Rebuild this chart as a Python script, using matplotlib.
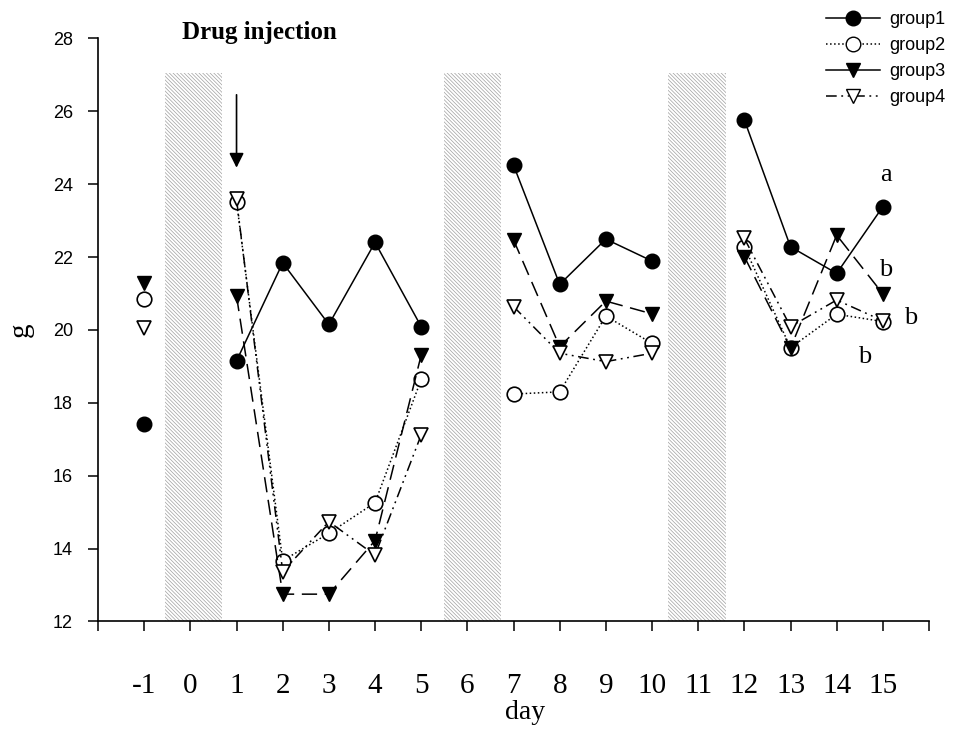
import numpy as np
import matplotlib
matplotlib.use("Agg")
import matplotlib.pyplot as plt
from matplotlib.lines import Line2D

nan = np.nan
days = [-1, 0, 1, 2, 3, 4, 5, 6, 7, 8, 9, 10, 11, 12, 13, 14, 15]
group1 = [17.41, nan, 19.15, 21.84, 20.15, 22.40, 20.09, nan, 24.52, 21.25, 22.49, 21.89, nan, 25.76, 22.28, 21.55, 23.38]
group2 = [20.84, nan, 23.52, 13.67, 14.42, 15.26, 18.64, nan, 18.24, 18.30, 20.38, 19.63, nan, 22.28, 19.51, 20.43, 20.23]
group3 = [21.30, nan, 20.93, 12.75, 12.75, 14.22, 19.31, nan, 22.47, 19.54, 20.79, 20.44, nan, 22.01, 19.50, 22.60, 20.99]
group4 = [20.04, nan, 23.58, 13.37, 14.74, 13.82, 17.12, nan, 20.64, 19.36, 19.13, 19.36, nan, 22.51, 20.09, 20.82, 20.25]
labels = ["group1", "group2", "group3", "group4"]
tick_days = list(range(-2, 17))
tick_labels = ["" if d in (-2, 16) else str(d) for d in tick_days]
bands = [(-0.56, 0.69), (5.50, 6.73), (10.35, 11.60)]
band_top = 27.05

plt.rcParams['hatch.linewidth'] = 0.5
plt.rcParams['hatch.color'] = '#a0a0a0'

fig = plt.figure(figsize=(9.64, 7.31), dpi=100)
ax = fig.add_axes([0.1017, 0.1498, 0.862, 0.7978])
ax.set_xlim(-2, 16)
ax.set_ylim(12, 28)

for x0, x1 in bands:
    ax.fill_between([x0, x1], 12, band_top, facecolor='white', edgecolor='#a0a0a0',
                    hatch='\\' * 9, linewidth=0, zorder=1)

d = np.array(days)
kw = dict(color='black', lw=1.1, markersize=10.5, zorder=3)
ax.plot(d, group1, '-', marker='o', mfc='black', mec='black', label=labels[0], **kw)
ax.plot(d, group2, ':', marker='o', mfc='white', mec='black', mew=1.2, label=labels[1], **kw)
ax.plot(d, group3, marker='v', mfc='black', mec='black', label=labels[2],
        linestyle=(0, (10, 5)), **kw)
ax.plot(d, group4, marker='v', mfc='white', mec='black', mew=1.2, label=labels[3],
        linestyle=(0, (7, 3, 1.2, 3, 1.2, 3)), **kw)

# arrow for drug injection
ax.annotate('', xy=(1, 24.45), xytext=(1, 26.45),
            arrowprops=dict(arrowstyle='-|>', color='black', lw=1.2,
                            mutation_scale=22, shrinkA=0, shrinkB=0), zorder=4)
ax.text(1.5, 28.15, 'Drug injection', ha='center', va='center', fontsize=18,
        fontweight='bold', family='Liberation Serif', clip_on=False)

# significance letters
ax.text(15.07, 24.25, 'a', ha='center', va='center', fontsize=19, family='Liberation Serif')
ax.text(15.07, 21.64, 'b', ha='center', va='center', fontsize=19, family='Liberation Serif')
ax.text(15.6, 20.32, 'b', ha='center', va='center', fontsize=19, family='Liberation Serif')
ax.text(14.6, 19.27, 'b', ha='center', va='center', fontsize=19, family='Liberation Serif')

for s in ['top', 'right']:
    ax.spines[s].set_visible(False)
ax.spines['left'].set_linewidth(1.2)
ax.spines['bottom'].set_linewidth(1.2)

ax.set_xticks(tick_days)
ax.set_xticklabels(tick_labels, fontsize=21, family='Liberation Serif')
ax.set_yticks(range(12, 29, 2))
ax.set_yticklabels([str(v) for v in range(12, 29, 2)], fontsize=13, family='Liberation Sans')
ax.tick_params(axis='y', direction='out', length=7, width=1.1, pad=11)
ax.tick_params(axis='x', direction='out', length=7, width=1.1, pad=30)

ax.set_xlabel('day', fontsize=20, family='Liberation Serif')
ax.xaxis.set_label_coords(0.514, -0.135)
ax.set_ylabel('g', fontsize=21, family='Liberation Serif', labelpad=14)

handles = [
    Line2D([], [], color='black', lw=1.1, marker='o', mfc='black', markersize=10.5),
    Line2D([], [], color='black', lw=1.1, ls=':', marker='o', mfc='white', markersize=10.5),
    Line2D([], [], color='black', lw=1.1, marker='v', mfc='black', markersize=10.5),
    Line2D([], [], color='black', lw=1.1, ls=(0, (7, 3, 1.2, 3, 1.2, 3)), marker='v', mfc='white', markersize=10.5),
]
fig.legend(handles, labels, loc='upper right', bbox_to_anchor=(0.992, 1.0), frameon=False,
           prop={'family': 'Liberation Sans', 'size': 13}, handlelength=3.0,
           handletextpad=0.5, labelspacing=0.5, borderaxespad=0.2)

fig.savefig('out.png', dpi=100)
